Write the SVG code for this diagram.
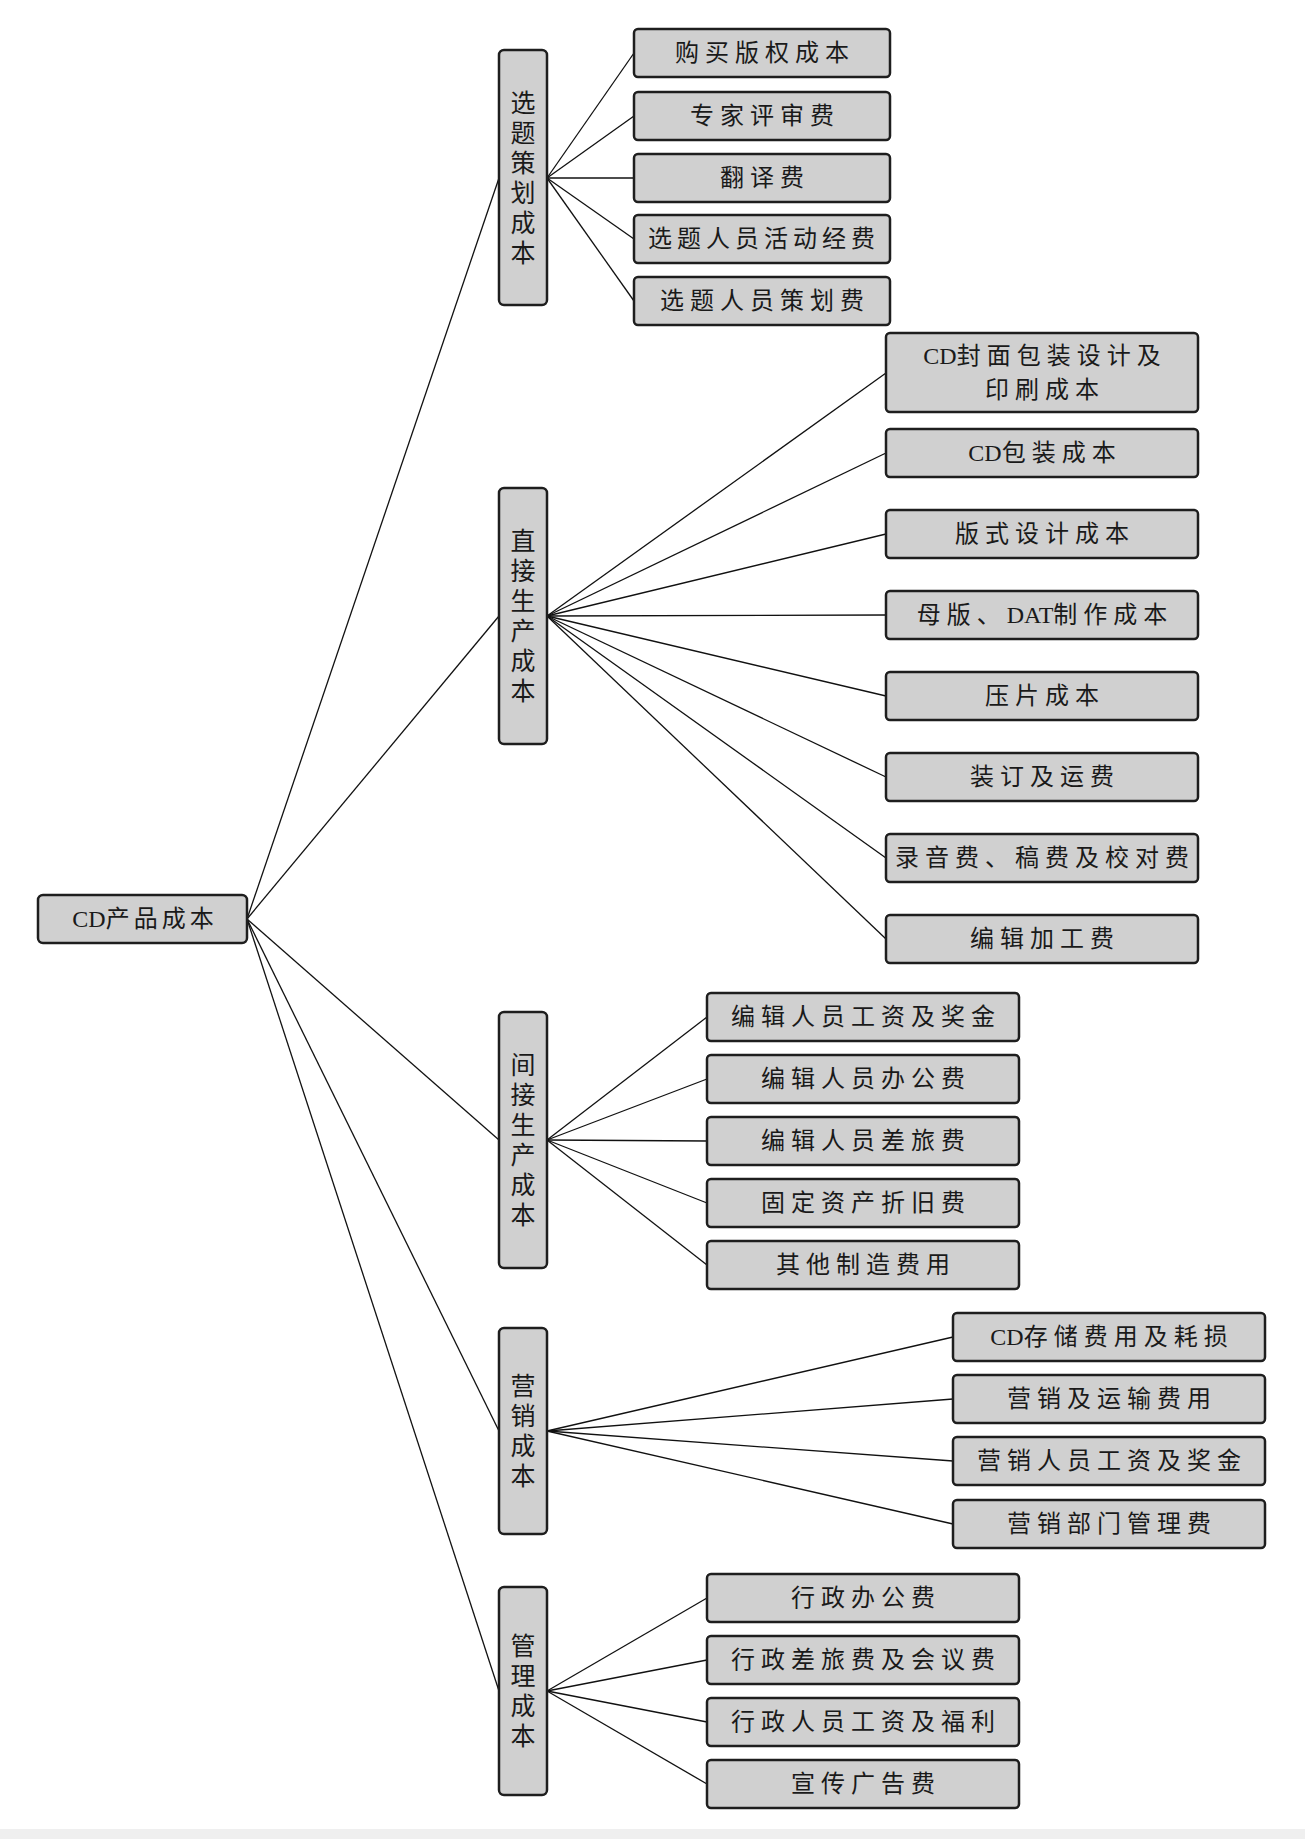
<svg xmlns="http://www.w3.org/2000/svg" width="1305" height="1839" viewBox="0 0 1305 1839">
<style>
.box{fill:#d0d0d0;stroke:#1e1e1e;stroke-width:2.5}
.t{font-family:"Liberation Serif","Noto Sans CJK SC",serif;font-size:24px;fill:#1a1a1a;text-anchor:middle;dominant-baseline:central;letter-spacing:6px}
.t .l{letter-spacing:0px}
.v{font-family:"Liberation Serif","Noto Sans CJK SC",serif;font-size:25px;fill:#1a1a1a;text-anchor:middle;dominant-baseline:central}
.c line{stroke:#111;stroke-width:1.3}
</style>
<rect x="0" y="0" width="1305" height="1839" fill="#ffffff"/>
<rect x="0" y="1829" width="1305" height="10" fill="#efefef"/>
<g class="c" id="connectors">
<line x1="247" y1="919" x2="499" y2="178"/>
<line x1="247" y1="919" x2="499" y2="616"/>
<line x1="247" y1="919" x2="499" y2="1140"/>
<line x1="247" y1="919" x2="499" y2="1431"/>
<line x1="247" y1="919" x2="499" y2="1691"/>
<line x1="547" y1="178" x2="634" y2="53"/>
<line x1="547" y1="178" x2="634" y2="116"/>
<line x1="547" y1="178" x2="634" y2="178"/>
<line x1="547" y1="178" x2="634" y2="239"/>
<line x1="547" y1="178" x2="634" y2="301"/>
<line x1="547" y1="616" x2="886" y2="373"/>
<line x1="547" y1="616" x2="886" y2="453"/>
<line x1="547" y1="616" x2="886" y2="534"/>
<line x1="547" y1="616" x2="886" y2="615"/>
<line x1="547" y1="616" x2="886" y2="696"/>
<line x1="547" y1="616" x2="886" y2="777"/>
<line x1="547" y1="616" x2="886" y2="858"/>
<line x1="547" y1="616" x2="886" y2="939"/>
<line x1="547" y1="1140" x2="707" y2="1017"/>
<line x1="547" y1="1140" x2="707" y2="1079"/>
<line x1="547" y1="1140" x2="707" y2="1141"/>
<line x1="547" y1="1140" x2="707" y2="1203"/>
<line x1="547" y1="1140" x2="707" y2="1265"/>
<line x1="547" y1="1431" x2="953" y2="1337"/>
<line x1="547" y1="1431" x2="953" y2="1399"/>
<line x1="547" y1="1431" x2="953" y2="1461"/>
<line x1="547" y1="1431" x2="953" y2="1524"/>
<line x1="547" y1="1691" x2="707" y2="1598"/>
<line x1="547" y1="1691" x2="707" y2="1660"/>
<line x1="547" y1="1691" x2="707" y2="1722"/>
<line x1="547" y1="1691" x2="707" y2="1784"/>
</g>
<g id="root"><rect class="box" x="38" y="895" width="209" height="48" rx="5"/><text class="t" x="145" y="919" style="letter-spacing:4px"><tspan class="l">CD</tspan>产品成本</text></g>
<g id="l1-xuanti"><rect class="box" x="499" y="50" width="48" height="255" rx="5"/>
<text class="v" x="523" y="103">选</text><text class="v" x="523" y="133">题</text><text class="v" x="523" y="163">策</text><text class="v" x="523" y="193">划</text><text class="v" x="523" y="223">成</text><text class="v" x="523" y="253">本</text></g>
<g id="l1-zhijie"><rect class="box" x="499" y="488" width="48" height="256" rx="5"/>
<text class="v" x="523" y="541">直</text><text class="v" x="523" y="571">接</text><text class="v" x="523" y="601">生</text><text class="v" x="523" y="631">产</text><text class="v" x="523" y="661">成</text><text class="v" x="523" y="691">本</text></g>
<g id="l1-jianjie"><rect class="box" x="499" y="1012" width="48" height="256" rx="5"/>
<text class="v" x="523" y="1065">间</text><text class="v" x="523" y="1095">接</text><text class="v" x="523" y="1125">生</text><text class="v" x="523" y="1155">产</text><text class="v" x="523" y="1185">成</text><text class="v" x="523" y="1215">本</text></g>
<g id="l1-yingxiao"><rect class="box" x="499" y="1328" width="48" height="206" rx="5"/>
<text class="v" x="523" y="1386">营</text><text class="v" x="523" y="1416">销</text><text class="v" x="523" y="1446">成</text><text class="v" x="523" y="1476">本</text></g>
<g id="l1-guanli"><rect class="box" x="499" y="1587" width="48" height="208" rx="5"/>
<text class="v" x="523" y="1646">管</text><text class="v" x="523" y="1676">理</text><text class="v" x="523" y="1706">成</text><text class="v" x="523" y="1736">本</text></g>
<g id="a1"><rect class="box" x="634" y="29" width="256" height="48" rx="4"/><text class="t" x="765" y="53">购买版权成本</text></g>
<g id="a2"><rect class="box" x="634" y="92" width="256" height="48" rx="4"/><text class="t" x="765" y="116">专家评审费</text></g>
<g id="a3"><rect class="box" x="634" y="154" width="256" height="48" rx="4"/><text class="t" x="765" y="178">翻译费</text></g>
<g id="a4"><rect class="box" x="634" y="215" width="256" height="48" rx="4"/><text class="t" x="764" y="239" style="letter-spacing:5px">选题人员活动经费</text></g>
<g id="a5"><rect class="box" x="634" y="277" width="256" height="48" rx="4"/><text class="t" x="765" y="301">选题人员策划费</text></g>
<g id="b1"><rect class="box" x="886" y="333" width="312" height="79" rx="4"/><text class="t" x="1045" y="356"><tspan class="l">CD</tspan>封面包装设计及</text><text class="t" x="1045" y="390">印刷成本</text></g>
<g id="b2"><rect class="box" x="886" y="429" width="312" height="48" rx="4"/><text class="t" x="1045" y="453"><tspan class="l">CD</tspan>包装成本</text></g>
<g id="b3"><rect class="box" x="886" y="510" width="312" height="48" rx="4"/><text class="t" x="1045" y="534">版式设计成本</text></g>
<g id="b4"><rect class="box" x="886" y="591" width="312" height="48" rx="4"/><text class="t" x="1045" y="615">母版、<tspan class="l">DAT</tspan>制作成本</text></g>
<g id="b5"><rect class="box" x="886" y="672" width="312" height="48" rx="4"/><text class="t" x="1045" y="696">压片成本</text></g>
<g id="b6"><rect class="box" x="886" y="753" width="312" height="48" rx="4"/><text class="t" x="1045" y="777">装订及运费</text></g>
<g id="b7"><rect class="box" x="886" y="834" width="312" height="48" rx="4"/><text class="t" x="1045" y="858">录音费、稿费及校对费</text></g>
<g id="b8"><rect class="box" x="886" y="915" width="312" height="48" rx="4"/><text class="t" x="1045" y="939">编辑加工费</text></g>
<g id="c1"><rect class="box" x="707" y="993" width="312" height="48" rx="4"/><text class="t" x="866" y="1017">编辑人员工资及奖金</text></g>
<g id="c2"><rect class="box" x="707" y="1055" width="312" height="48" rx="4"/><text class="t" x="866" y="1079">编辑人员办公费</text></g>
<g id="c3"><rect class="box" x="707" y="1117" width="312" height="48" rx="4"/><text class="t" x="866" y="1141">编辑人员差旅费</text></g>
<g id="c4"><rect class="box" x="707" y="1179" width="312" height="48" rx="4"/><text class="t" x="866" y="1203">固定资产折旧费</text></g>
<g id="c5"><rect class="box" x="707" y="1241" width="312" height="48" rx="4"/><text class="t" x="866" y="1265">其他制造费用</text></g>
<g id="d1"><rect class="box" x="953" y="1313" width="312" height="48" rx="4"/><text class="t" x="1112" y="1337"><tspan class="l">CD</tspan>存储费用及耗损</text></g>
<g id="d2"><rect class="box" x="953" y="1375" width="312" height="48" rx="4"/><text class="t" x="1112" y="1399">营销及运输费用</text></g>
<g id="d3"><rect class="box" x="953" y="1437" width="312" height="48" rx="4"/><text class="t" x="1112" y="1461">营销人员工资及奖金</text></g>
<g id="d4"><rect class="box" x="953" y="1500" width="312" height="48" rx="4"/><text class="t" x="1112" y="1524">营销部门管理费</text></g>
<g id="e1"><rect class="box" x="707" y="1574" width="312" height="48" rx="4"/><text class="t" x="866" y="1598">行政办公费</text></g>
<g id="e2"><rect class="box" x="707" y="1636" width="312" height="48" rx="4"/><text class="t" x="866" y="1660">行政差旅费及会议费</text></g>
<g id="e3"><rect class="box" x="707" y="1698" width="312" height="48" rx="4"/><text class="t" x="866" y="1722">行政人员工资及福利</text></g>
<g id="e4"><rect class="box" x="707" y="1760" width="312" height="48" rx="4"/><text class="t" x="866" y="1784">宣传广告费</text></g>
</svg>
